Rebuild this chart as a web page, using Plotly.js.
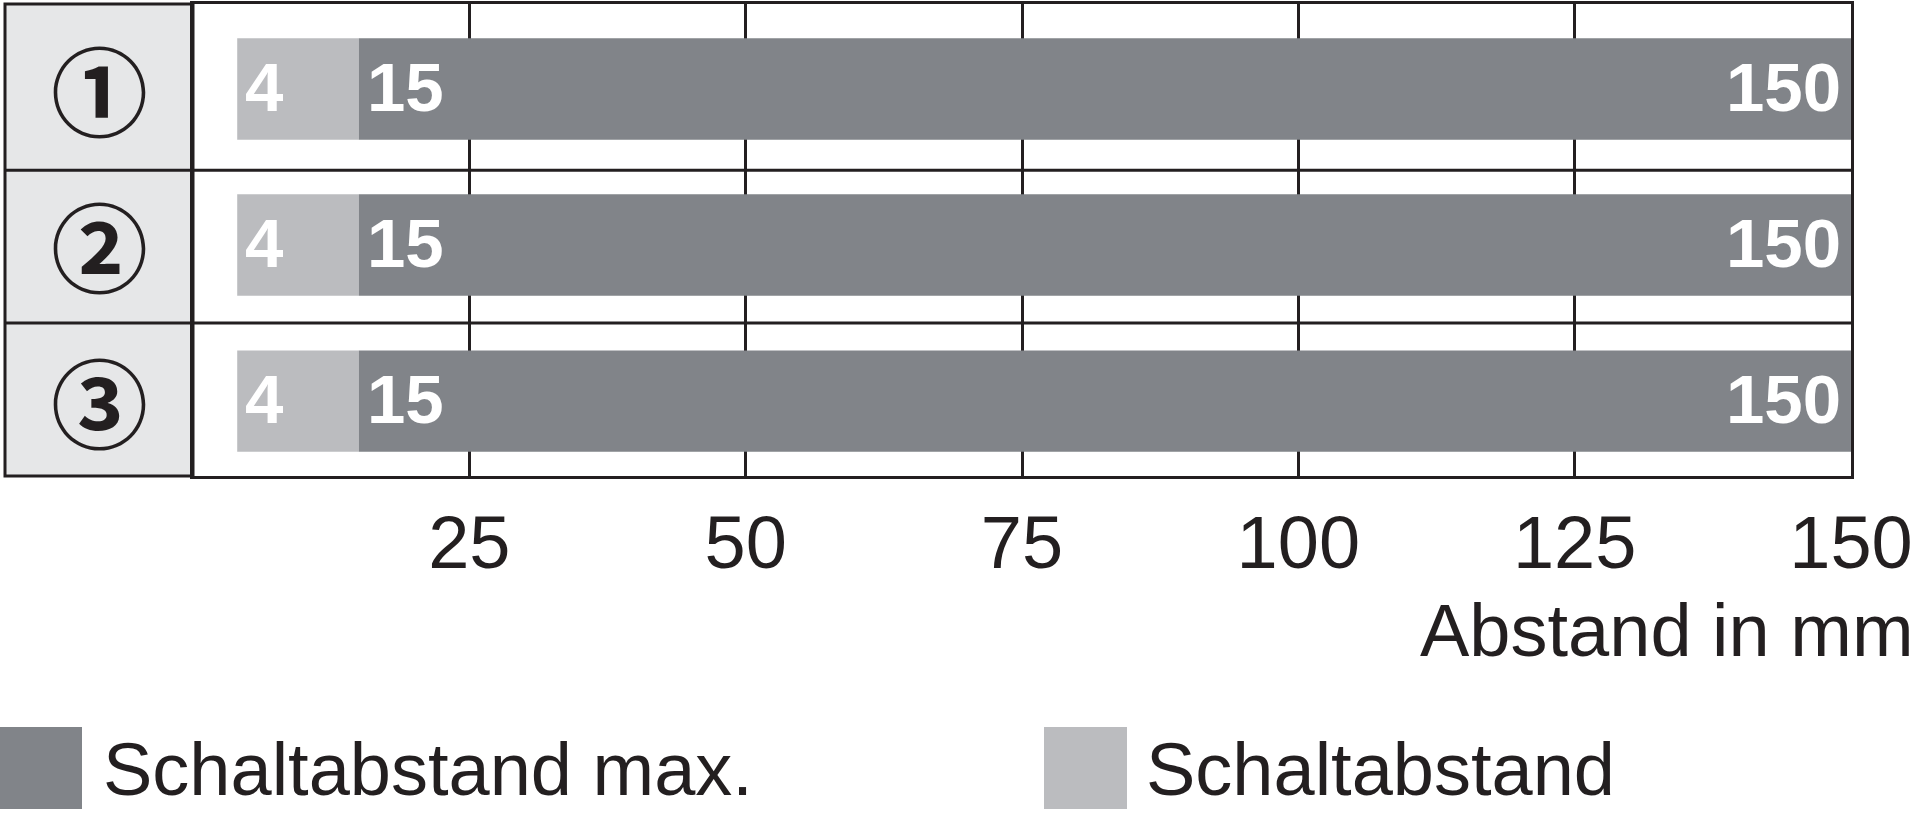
<!DOCTYPE html>
<html>
<head>
<meta charset="utf-8">
<script src="https://cdn.plot.ly/plotly-3.0.1.min.js"></script>
<style>
  html, body { margin: 0; padding: 0; background: #ffffff; }
  #chart { width: 1920px; height: 819px; }
</style>
</head>
<body>
<div id="chart"></div>
<script>
// ---- data ----
const categories = ['①', '②', '③'];
const schaltabstandStart = [4, 4, 4];
const schaltabstandEnd = [15, 15, 15];
const schaltabstandMaxStart = [15, 15, 15];
const schaltabstandMaxEnd = [150, 150, 150];
const tickValues = [25, 50, 75, 100, 125, 150];
const tickLabels = ['25', '50', '75', '100', '125', '150'];
const seriesNames = ['Schaltabstand max.', 'Schaltabstand'];
const axisTitle = 'Abstand in mm';

// ---- styles ----
const DARK = '#818489';
const LIGHT = '#bbbcbf';
const CELL = '#e6e7e8';
const INK = '#231f20';
const FONT = 'Liberation Sans, Arial, sans-serif';

const W = 1920, H = 819;
const M = { l: 193, r: 69, t: 4, b: 343 };
const plotW = W - M.l - M.r;
const plotH = H - M.t - M.b;
const px2paperX = px => (px - M.l) / plotW;
const px2paperY = py => (H - M.b - py) / plotH;

const traces = [
  {
    type: 'bar', orientation: 'h', name: seriesNames[1],
    y: categories,
    base: schaltabstandStart,
    x: schaltabstandEnd.map((e, i) => e - schaltabstandStart[i]),
    marker: { color: LIGHT, line: { width: 0 } },
    width: 0.65, hoverinfo: 'skip'
  },
  {
    type: 'bar', orientation: 'h', name: seriesNames[0],
    y: categories,
    base: schaltabstandMaxStart,
    x: schaltabstandMaxEnd.map((e, i) => e - schaltabstandMaxStart[i]),
    marker: { color: DARK, line: { width: 0 } },
    width: 0.65, hoverinfo: 'skip'
  }
];

const annotations = [];
const valueFont = { family: FONT, size: 69, color: '#ffffff', weight: 'bold' };
categories.forEach((c, i) => {
  annotations.push({ x: schaltabstandStart[i], y: c, xref: 'x', yref: 'y', text: String(schaltabstandStart[i]),
    showarrow: false, xanchor: 'left', yanchor: 'middle', xshift: 6, yshift: 2, font: valueFont });
  annotations.push({ x: schaltabstandMaxStart[i], y: c, xref: 'x', yref: 'y', text: String(schaltabstandMaxStart[i]),
    showarrow: false, xanchor: 'left', yanchor: 'middle', xshift: 6, yshift: 2, font: valueFont });
  annotations.push({ x: schaltabstandMaxEnd[i], y: c, xref: 'x', yref: 'y', text: String(schaltabstandMaxEnd[i]),
    showarrow: false, xanchor: 'right', yanchor: 'middle', xshift: -8, yshift: 2, font: valueFont });
  // row label
  annotations.push({ x: px2paperX(99), y: c, xref: 'paper', yref: 'y', text: c,
    showarrow: false, xanchor: 'center', yanchor: 'middle', yshift: 3,
    font: { family: 'Noto Sans CJK JP, DejaVu Sans, sans-serif', size: 97, color: INK, weight: 'bold' } });
});

// axis title
annotations.push({ x: px2paperX(1916), y: px2paperY(630), xref: 'paper', yref: 'paper', text: axisTitle,
  showarrow: false, xanchor: 'right', yanchor: 'middle', font: { family: FONT, size: 74, color: INK } });

// custom legend
const legendItems = [
  { name: seriesNames[0], color: DARK, sq: [0, 82], tx: 101 },
  { name: seriesNames[1], color: LIGHT, sq: [1044, 1127], tx: 1144 }
];
const shapes = [];
legendItems.forEach(it => {
  shapes.push({ type: 'rect', xref: 'paper', yref: 'paper',
    x0: px2paperX(it.sq[0]), x1: px2paperX(it.sq[1]), y0: px2paperY(809), y1: px2paperY(727),
    fillcolor: it.color, line: { width: 0 } });
  annotations.push({ x: px2paperX(it.tx), y: px2paperY(769), xref: 'paper', yref: 'paper', text: it.name,
    showarrow: false, xanchor: 'left', yanchor: 'middle', font: { family: FONT, size: 74, color: INK } });
});

// label column
shapes.unshift({ type: 'rect', xref: 'paper', yref: 'paper', layer: 'below',
  x0: px2paperX(5), x1: 0, y0: 0, y1: 1, fillcolor: CELL, line: { color: INK, width: 3 } });
// row dividers
[0.52, 1.5].forEach(yv => {
  shapes.push({ type: 'line', xref: 'paper', yref: 'y', x0: px2paperX(5), x1: 1, y0: yv, y1: yv,
    line: { color: INK, width: 3 } });
});

const layout = {
  width: W, height: H,
  margin: M,
  paper_bgcolor: '#ffffff', plot_bgcolor: '#ffffff',
  barmode: 'overlay',
  showlegend: false,
  font: { family: FONT, color: INK },
  xaxis: {
    range: [0, 150], tickvals: tickValues, ticktext: tickLabels,
    showgrid: true, gridcolor: INK, gridwidth: 3,
    showline: true, linecolor: INK, linewidth: 3, mirror: true,
    zeroline: false, ticks: '', ticklabelstandoff: 0,
    tickfont: { family: FONT, size: 74, color: INK }
  },
  yaxis: {
    type: 'category', categoryorder: 'array', categoryarray: categories,
    range: [2.48, -0.545],
    showticklabels: false, showgrid: false, zeroline: false,
    showline: true, linecolor: INK, linewidth: 3, mirror: true, ticks: ''
  },
  shapes: shapes,
  annotations: annotations
};

Plotly.newPlot('chart', traces, layout, { staticPlot: true, displayModeBar: false });
</script>
</body>
</html>
